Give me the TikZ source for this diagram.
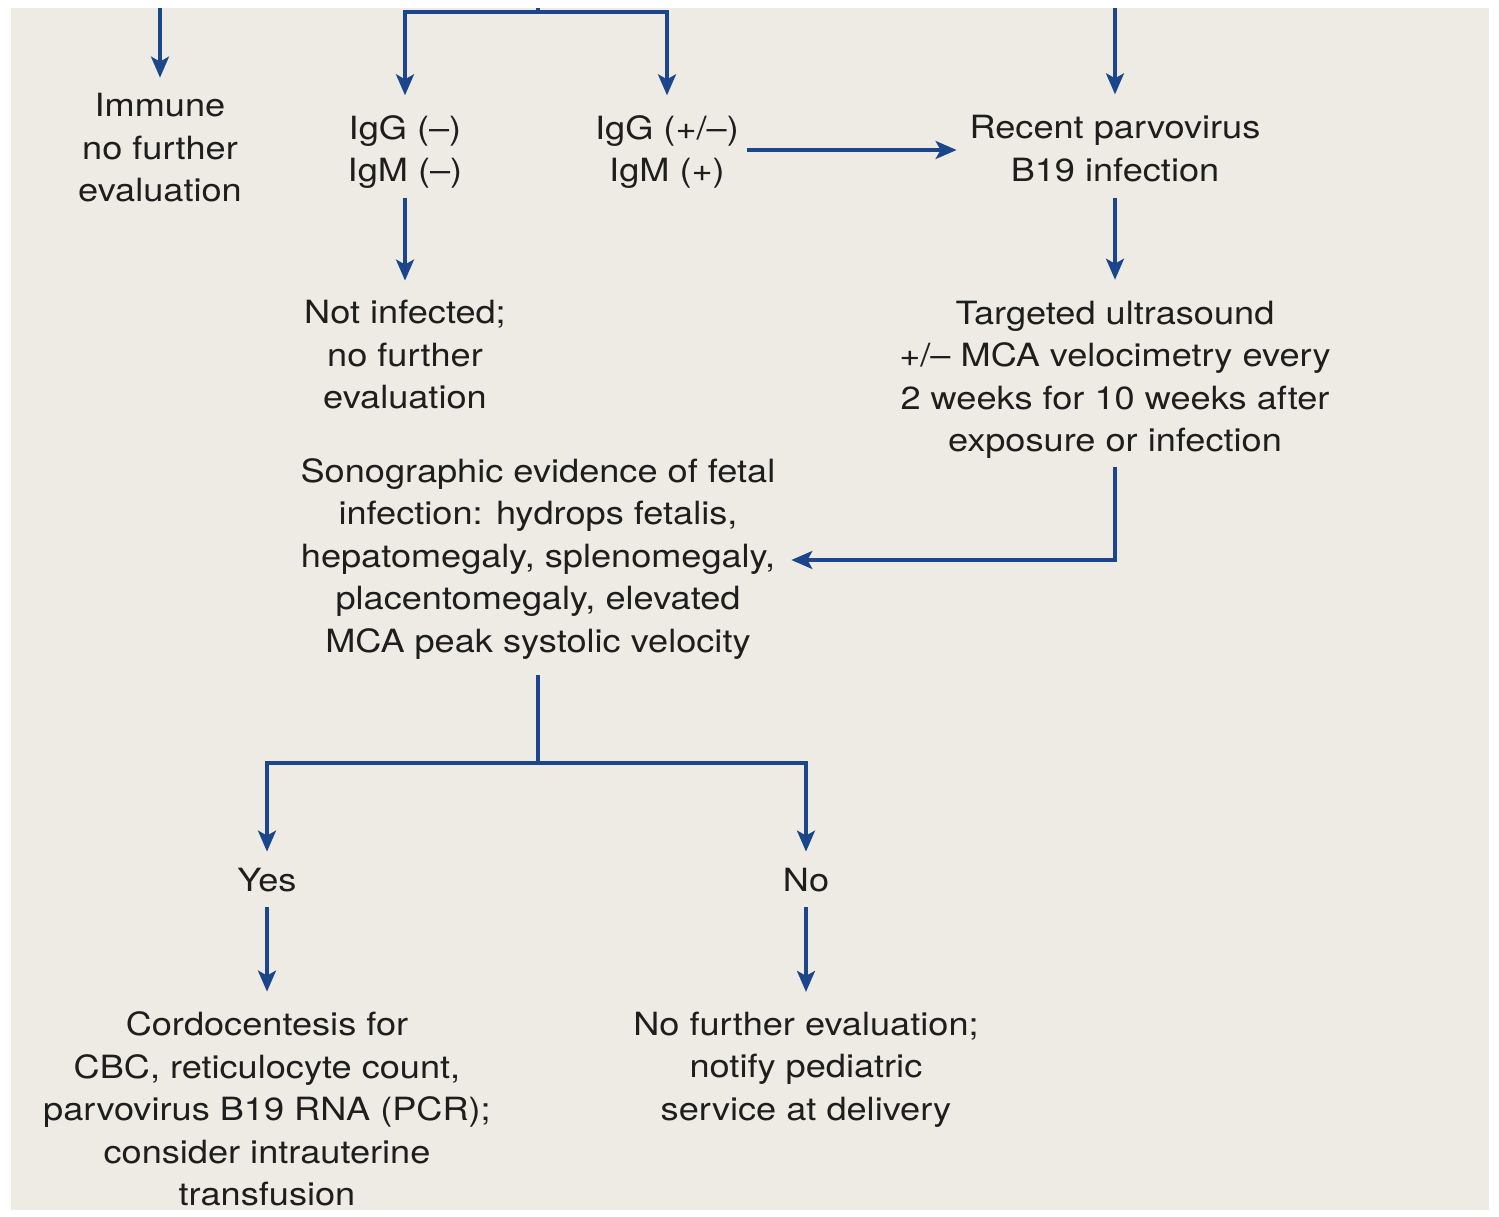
\documentclass[tikz,border=0pt]{standalone}
\usepackage{fontspec}
\setmainfont{TeX Gyre Heros}[FakeStretch=1.13]
\usetikzlibrary{arrows.meta}
\definecolor{panel}{RGB}{238,235,228}
\definecolor{flow}{RGB}{28,70,140}
\definecolor{ink}{RGB}{30,30,30}
\begin{document}
\begin{tikzpicture}[x=1pt,y=-1pt,
  txt/.style={align=center,inner sep=0pt,outer sep=0pt,text=ink,font=\fontsize{32}{42.5}\selectfont},
  conn/.style={draw=flow,line width=3.2pt},
  arr/.style={conn,-{Stealth[length=21pt,width=18pt,inset=5pt]}}]
\useasboundingbox (0,0) rectangle (1499,1217);
\fill[white] (0,0) rectangle (1499,1217);
\fill[panel] (11,8) rectangle (1489,1210);

% nodes
\node[txt] (immune) at (160,148) {Immune\\no further\\evaluation};
\node[txt] (igneg) at (405,152) {IgG (--)\\IgM (--)};
\node[txt] (igpm) at (667,152) {IgG (+/--)\\IgM (+)};
\node[txt] (recent) at (1115,148.5) {Recent parvovirus\\B19 infection};
\node[txt] (notinf) at (405,355) {Not infected;\\no further\\evaluation};
\node[txt] (tus) at (1115,379.6) {Targeted ultrasound\\+/-- MCA velocimetry every\\2 weeks for 10 weeks after\\exposure or infection};
\node[txt] (sono) at (538,558.6) {Sonographic evidence of fetal\\infection: hydrops fetalis,\\hepatomegaly, splenomegaly,\\placentomegaly, elevated\\MCA peak systolic velocity};
\node[txt] (yes) at (267,880.5) {Yes};
\node[txt] (no) at (806,880.5) {No};
\node[txt] (cordo) at (267,1108.8) {Cordocentesis for\\CBC, reticulocyte count,\\parvovirus B19 RNA (PCR);\\consider intrauterine\\transfusion};
\node[txt] (nofurther) at (806,1069.6) {No further evaluation;\\notify pediatric\\service at delivery};

% coordinates
\coordinate (inL) at (160,8);
\coordinate (inR) at (1115,8);
\coordinate (topmid) at (538,8);
\coordinate (brk) at (538,12);
\coordinate (split) at (538,763);

% connectors
\draw[arr,shorten >=16pt] (inL) -- (immune);
\draw[arr,shorten >=21pt] (inR) -- (recent);
\draw[conn] (topmid) -- (brk);
\draw[arr,shorten >=20pt] (brk) -| (igneg);
\draw[arr,shorten >=20pt] (brk) -| (igpm);
\draw[arr,shorten <=8pt,shorten >=13pt] ([yshift=2pt]igpm.east) -- ([yshift=2pt]igpm.east -| recent.west);
\draw[arr,shorten <=9pt,shorten >=20pt] (igneg) -- (notinf);
\draw[arr,shorten <=16pt,shorten >=21pt] (recent) -- (tus);
\draw[arr,shorten <=8pt,shorten >=16pt] (tus.south) |- ([yshift=-1.4pt]sono.east);
\draw[conn,shorten <=16pt] (sono.south) -- (split);
\draw[arr,shorten >=17pt] (split) -| (yes);
\draw[arr,shorten >=17pt] (split) -| (no);
\draw[arr,shorten <=15pt,shorten >=20pt] (yes) -- (cordo);
\draw[arr,shorten <=15pt,shorten >=20pt] (no) -- (nofurther);
\end{tikzpicture}
\end{document}
